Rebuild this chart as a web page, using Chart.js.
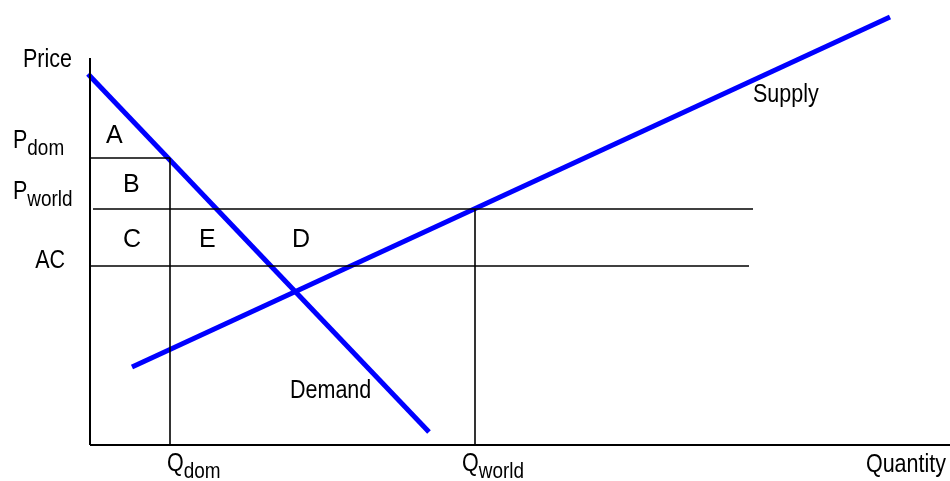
<!DOCTYPE html>
<html>
<head>
<meta charset="utf-8">
<script src="https://cdn.jsdelivr.net/npm/chart.js@4"></script>
<style>
    html, body { margin: 0; padding: 0; background: #fff; }
    #wrap { width: 950px; height: 481px; position: relative; }
</style>
</head>
<body>
<div id="wrap"><canvas id="tariffChart"></canvas></div>
<script>
// Price / quantity levels (diagram units)
const pDom = 28.7;
const pWorld = 23.6;
const acPrice = 17.9;
const qDom = 8;
const qWorld = 38.5;

// Curves
const demandQ = [-0.2, 33.9];
const demandP = [37.1, 1.3];
const supplyQ = [4.2, 80];
const supplyP = [7.8, 42.8];

// Axis extents
const axisTopP = 38.7;
const axisEndQ = 86;

// Guide lines: [q1, p1, q2, p2]
const guides = [
    [0, pDom, qDom, pDom],
    [0.3, pWorld, 66.3, pWorld],
    [0, acPrice, 65.9, acPrice],
    [qDom, 0, qDom, pDom],
    [qWorld, 0, qWorld, pWorld]
];

// Text labels: [text, subscript, q, p, align, size, narrow]
const labels = [
    ['Price', '', -1.8, 37.8, 'right', 25, true],
    ['P', 'dom', -7.7, 29.7, 'left', 25, true],
    ['P', 'world', -7.7, 24.6, 'left', 25, true],
    ['AC', '', -2.5, 17.7, 'right', 25, true],
    ['A', '', 1.6, 30.2, 'left', 25, false],
    ['B', '', 3.3, 25.3, 'left', 25, false],
    ['C', '', 3.3, 19.8, 'left', 25, false],
    ['E', '', 10.9, 19.8, 'left', 25, false],
    ['D', '', 20.2, 19.8, 'left', 25, false],
    ['Supply', '', 66.3, 34.3, 'left', 25, true],
    ['Demand', '', 20.0, 4.7, 'left', 25, true],
    ['Q', 'dom', 7.7, -2.6, 'left', 25, true],
    ['Q', 'world', 37.2, -2.6, 'left', 25, true],
    ['Quantity', '', 85.6, -2.7, 'right', 25, true]
];

const NARROW = 0.86;

function toPoints(xs, ys) {
    return xs.map((x, i) => ({ x: x, y: ys[i] }));
}

function lineSet(points, color, width) {
    return {
        data: points,
        showLine: true,
        borderColor: color,
        borderWidth: width,
        pointRadius: 0,
        fill: false,
        clip: false
    };
}

function fontFor(size) {
    return size + 'px "Liberation Sans", Arial, sans-serif';
}

const labelPlugin = {
    id: 'diagramLabels',
    afterDatasetsDraw(chart) {
        const ctx = chart.ctx;
        const xs = chart.scales.x;
        const ys = chart.scales.y;
        ctx.save();
        ctx.fillStyle = '#000';
        ctx.textBaseline = 'alphabetic';
        ctx.textAlign = 'left';
        labels.forEach(([text, sub, q, p, align, size, narrow]) => {
            const px = xs.getPixelForValue(q);
            const py = ys.getPixelForValue(p);
            const sx = narrow ? NARROW : 1;
            const subSize = Math.round(size * 0.86);
            ctx.font = fontFor(size);
            const w = ctx.measureText(text).width;
            ctx.font = fontFor(subSize);
            const sw = sub ? ctx.measureText(sub).width : 0;
            const left = align === 'right' ? px - (w + sw) * sx : px;
            ctx.save();
            ctx.translate(left, py);
            ctx.scale(sx, 1);
            ctx.font = fontFor(size);
            ctx.fillText(text, 0, 0);
            if (sub) {
                ctx.font = fontFor(subSize);
                ctx.fillText(sub, w, 7);
            }
            ctx.restore();
        });
        ctx.restore();
    }
};

const datasets = [];
guides.forEach(g => datasets.push(lineSet([{ x: g[0], y: g[1] }, { x: g[2], y: g[3] }], '#000', 1.6)));
datasets.push(lineSet([{ x: 0, y: 0 }, { x: 0, y: axisTopP }], '#000', 2));
datasets.push(lineSet([{ x: 0, y: 0 }, { x: axisEndQ, y: 0 }], '#000', 2));
datasets.push(lineSet(toPoints(demandQ, demandP), '#0000ff', 5));
datasets.push(lineSet(toPoints(supplyQ, supplyP), '#0000ff', 5));

new Chart(document.getElementById('tariffChart').getContext('2d'), {
    type: 'scatter',
    data: { datasets: datasets },
    options: {
        responsive: true,
        maintainAspectRatio: false,
        animation: false,
        layout: { padding: { left: 90, right: 0, top: 0, bottom: 36 } },
        plugins: {
            legend: { display: false },
            tooltip: { enabled: false }
        },
        scales: {
            x: { type: 'linear', min: 0, max: 86, display: false },
            y: { type: 'linear', min: 0, max: 44.5, display: false }
        }
    },
    plugins: [labelPlugin]
});
</script>
</body>
</html>
